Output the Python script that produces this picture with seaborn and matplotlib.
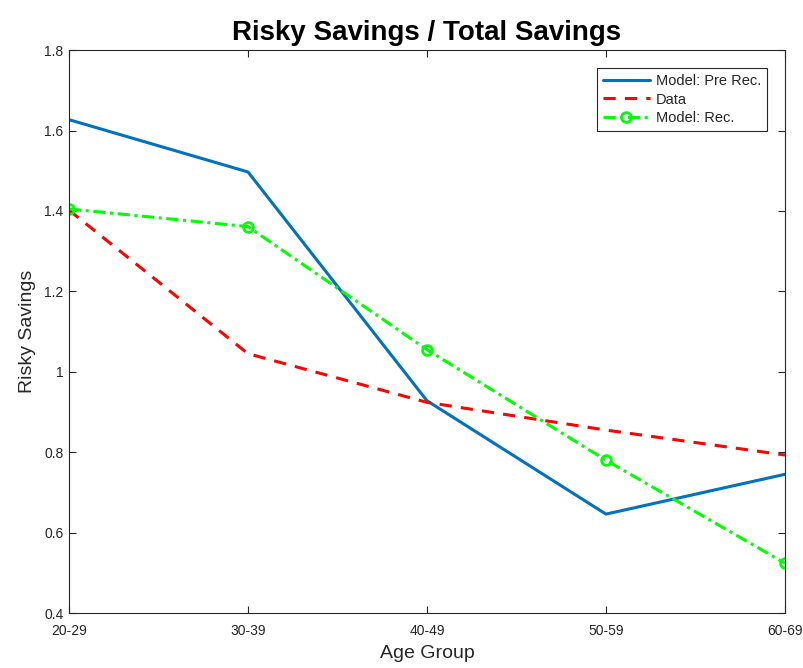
import matplotlib
matplotlib.use("Agg")
import matplotlib.pyplot as plt
import seaborn as sns
import pandas as pd

# values
age_groups = ["20-29", "30-39", "40-49", "50-59", "60-69"]
model_pre_rec = [1.627, 1.497, 0.928, 0.646, 0.745]
data_values = [1.402, 1.045, 0.924, 0.855, 0.793]
model_rec = [1.405, 1.361, 1.055, 0.780, 0.524]
y_ticks = [0.4, 0.6, 0.8, 1.0, 1.2, 1.4, 1.6, 1.8]
y_tick_labels = ["0.4", "0.6", "0.8", "1", "1.2", "1.4", "1.6", "1.8"]

sns.set_theme(style="white")
plt.rcParams["font.family"] = ["Liberation Sans", "DejaVu Sans"]

df = pd.DataFrame({
    "age": age_groups,
    "pre": model_pre_rec,
    "data": data_values,
    "rec": model_rec,
})

fig = plt.figure(figsize=(8.04, 6.68), dpi=100)
ax = fig.add_axes([0.0858, 0.0823, 0.8905, 0.8427])

sns.lineplot(data=df, x="age", y="pre", ax=ax, color="#0072BD",
             linewidth=2.2, label="Model: Pre Rec.", sort=False)
sns.lineplot(data=df, x="age", y="data", ax=ax, color="#FF0000",
             linewidth=2.2, linestyle=(0, (4, 3)), label="Data", sort=False)
sns.lineplot(data=df, x="age", y="rec", ax=ax, color="#00FF00",
             linewidth=2.2, linestyle=(0, (4, 1.5, 1, 1.5)), marker="o",
             markersize=7, markerfacecolor="none", markeredgecolor="#00FF00",
             markeredgewidth=2, label="Model: Rec.", sort=False)

ax.set_xlim(0, len(age_groups) - 1)
ax.set_ylim(0.4, 1.8)
ax.set_yticks(y_ticks)
ax.set_yticklabels(y_tick_labels)

ax.tick_params(direction="in", length=5, width=0.8, colors="#262626",
               labelsize=10, top=True, right=True, bottom=True, left=True,
               labelcolor="#262626", pad=4)
ax.tick_params(axis="x", pad=8)
for s in ax.spines.values():
    s.set_visible(True)
    s.set_color("#262626")
    s.set_linewidth(0.8)

ax.set_title("Risky Savings / Total Savings", fontsize=20, fontweight="bold",
             color="black", pad=7)
ax.set_xlabel("Age Group", fontsize=14, color="#262626", labelpad=5)
ax.set_ylabel("Risky Savings", fontsize=14, color="#262626", labelpad=6)

leg = ax.legend(loc="upper right", fontsize=10.5, frameon=True, fancybox=False,
                edgecolor="#262626", framealpha=1, handlelength=3.2,
                borderaxespad=1.2, borderpad=0.45, labelspacing=0.3,
                handletextpad=0.4)
leg.get_frame().set_linewidth(0.8)

fig.savefig("out.png", dpi=100)
